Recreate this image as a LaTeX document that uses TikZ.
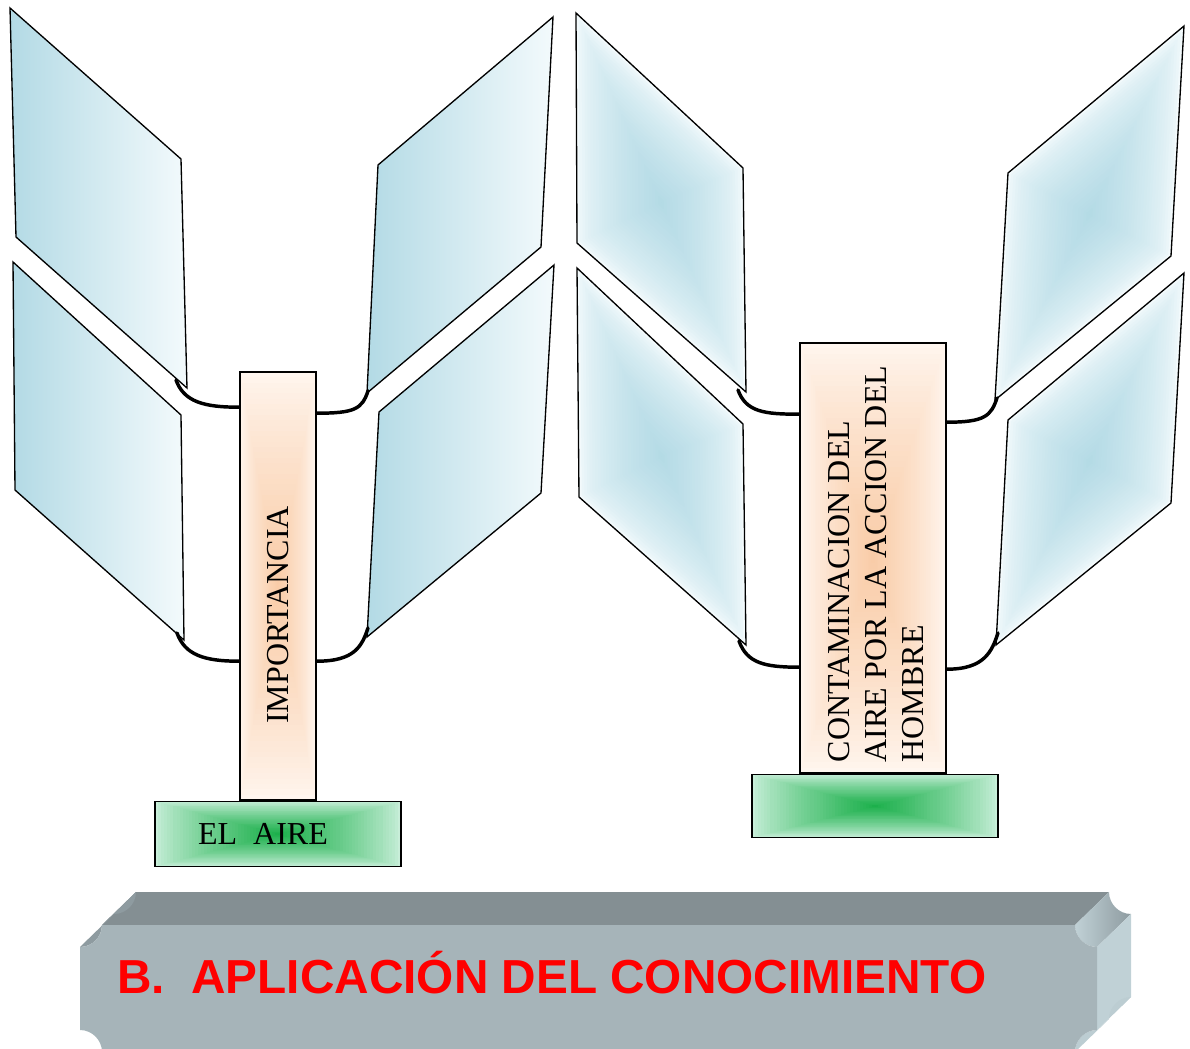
\documentclass[tikz,border=0pt]{standalone}
\usepackage{fontspec}
\setmainfont{Liberation Serif}
\newfontfamily\bannerfont{Liberation Sans}
\usetikzlibrary{calc, positioning}
\newlength\px
\setlength\px{0.75pt}
\definecolor{glassdark}{HTML}{B3DAE5}
\definecolor{glasslight}{HTML}{F3FAFC}
\definecolor{peachdark}{HTML}{F9CBA6}
\definecolor{peachlight}{HTML}{FFF6EF}
\definecolor{greendark}{HTML}{19AF49}
\definecolor{greenlight}{HTML}{C8EED9}
\definecolor{slatefront}{HTML}{A6B4B9}
\definecolor{slatetop}{HTML}{848F93}
\definecolor{slateside}{HTML}{C0D1D6}
\definecolor{slatenotch}{HTML}{8E9BA0}
\newcommand{\rectshade}[2]{%
  \foreach \k in {0,...,40}{
    \pgfmathsetmacro\s{1-\k/40}
    \pgfmathtruncatemacro\c{100*(\k/40)^0.8}
    \fill[#1!\c!#2] ($(path picture bounding box.center)!\s!(path picture bounding box.south west)$)
      rectangle ($(path picture bounding box.center)!\s!(path picture bounding box.north east)$);
  }}
\newcommand{\panelflat}[4]{%
  \shadedraw[panel, left color=glassdark, right color=glasslight] (#1) -- (#2) -- (#3) -- (#4) -- cycle;}
\newcommand{\paneldiamond}[4]{%
  \foreach \k in {0,...,30}{
    \pgfmathsetmacro\s{1-\k/30}
    \pgfmathtruncatemacro\c{100*(\k/30)^0.6}
    \fill[glassdark!\c!glasslight] ($(#1)!.5!(#3)!\s!(#1)$) -- ($(#1)!.5!(#3)!\s!(#2)$)
      -- ($(#1)!.5!(#3)!\s!(#3)$) -- ($(#1)!.5!(#3)!\s!(#4)$) -- cycle;
  }
  \draw[panel] (#1) -- (#2) -- (#3) -- (#4) -- cycle;}
\tikzstyle{panel} = [draw=black, line width=1pt, line join=miter]
\tikzstyle{link} = [line width=2.6pt, line cap=round]
\tikzstyle{pillar} = [rectangle, draw=black, line width=1.2pt, inner sep=0pt, text centered, font=\fontsize{24}{27.75}\selectfont, path picture={\rectshade{peachdark}{peachlight}}]
\tikzstyle{base} = [rectangle, draw=black, line width=1.2pt, inner sep=0pt, text centered, font=\fontsize{24}{27.75}\selectfont, path picture={\rectshade{greendark}{greenlight}}]
\begin{document}
\begin{tikzpicture}[x=0.75pt, y=-0.75pt]
\useasboundingbox (0,0) rectangle (1190,1049);
% panels of the first column
\coordinate (a1) at (10,8);    \coordinate (a2) at (181,159); \coordinate (a3) at (187,388); \coordinate (a4) at (16,237);
\coordinate (b1) at (13,262);  \coordinate (b2) at (181,415); \coordinate (b3) at (184,640); \coordinate (b4) at (15,490);
\coordinate (c1) at (378,165); \coordinate (c2) at (553,17);  \coordinate (c3) at (541,247); \coordinate (c4) at (367,393);
\coordinate (d1) at (379,412); \coordinate (d2) at (554,265); \coordinate (d3) at (541,493); \coordinate (d4) at (367,637);
\panelflat{a1}{a2}{a3}{a4}
\panelflat{b1}{b2}{b3}{b4}
\panelflat{c1}{c2}{c3}{c4}
\panelflat{d1}{d2}{d3}{d4}
% panels of the second column
\coordinate (e1) at (576,13);   \coordinate (e2) at (743,168);  \coordinate (e3) at (746,392);  \coordinate (e4) at (577,243);
\coordinate (f1) at (577,268);  \coordinate (f2) at (743,424);  \coordinate (f3) at (746,645);  \coordinate (f4) at (579,497);
\coordinate (g1) at (1008,173); \coordinate (g2) at (1184,26);  \coordinate (g3) at (1171,256); \coordinate (g4) at (995,400);
\coordinate (h1) at (1008,420); \coordinate (h2) at (1184,273); \coordinate (h3) at (1171,503); \coordinate (h4) at (996,645);
\paneldiamond{e1}{e2}{e3}{e4}
\paneldiamond{f1}{f2}{f3}{f4}
\paneldiamond{g1}{g2}{g3}{g4}
\paneldiamond{h1}{h2}{h3}{h4}
% pillars and bases
\node (imp) [pillar, minimum width=76\px, minimum height=428\px] at (278,586) {\rotatebox{90}{IMPORTANCIA\hspace*{58\px}}};
\node (aire) [base, below=0pt of imp, minimum width=246\px, minimum height=65\px] {EL\ \ AIRE\hspace*{30\px}};
\node (cont) [pillar, minimum width=146\px, minimum height=430\px] at (873,558) {\hspace*{12\px}\rotatebox{90}{\begin{tabular}{@{}l@{}}CONTAMINACION DEL\\AIRE POR LA ACCION DEL\hspace*{12\px}\\HOMBRE\end{tabular}}};
\node (contbase) [base, below=0pt of cont, xshift=2\px, minimum width=246\px, minimum height=63\px] {};
% hinges
\coordinate (ja) at (176,380);  \coordinate (jb) at (177,633);
\coordinate (jc) at (368,391);  \coordinate (jd) at (368,628);
\coordinate (je) at (738,390);  \coordinate (jf) at (739,641);
\coordinate (jg) at (997,398);  \coordinate (jh) at (998,633);
\draw [link] (ja) .. controls +(8,22) and +(-35,0) .. ($(imp.north west)+(0,36)$);
\draw [link] (jb) .. controls +(8,22) and +(-35,0) .. ($(imp.north west)+(0,290)$);
\draw [link] ($(imp.north east)+(0,42)$) .. controls +(38,0) and +(-6,18) .. (jc);
\draw [link] ($(imp.north east)+(0,290)$) .. controls +(38,0) and +(-6,18) .. (jd);
\draw [link] (je) .. controls +(8,22) and +(-35,0) .. ($(cont.north west)+(0,72)$);
\draw [link] (jf) .. controls +(8,22) and +(-35,0) .. ($(cont.north west)+(0,325)$);
\draw [link] ($(cont.north east)+(0,80)$) .. controls +(38,0) and +(-6,18) .. (jg);
\draw [link] ($(cont.north east)+(0,327)$) .. controls +(38,0) and +(-6,18) .. (jh);
% banner
\fill[slatetop] (102,925) -- (136,892) -- (1109,892) -- (1075,925) -- cycle;
\fill[slatenotch] (80,947) -- (114,914) .. controls (126,914) and (136,904) .. (136,892) -- (102,925) .. controls (102,937) and (92,947) .. (80,947) -- cycle;
\shade[left color=slateside, right color=slatenotch] (1075,925) .. controls (1075,937) and (1085,947) .. (1097,947) -- (1131,914) .. controls (1119,914) and (1109,904) .. (1109,892) -- cycle;
\fill[slateside] (1097,947) -- (1131,914) -- (1131,997) -- (1097,1030) -- cycle;
\fill[slateside!85!slatefront] (1097,1030) -- (1131,997) .. controls (1119,997) and (1109,1007) .. (1109,1019) -- (1075,1052) .. controls (1075,1040) and (1085,1030) .. (1097,1030) -- cycle;
\fill[slatefront] (102,925) -- (1075,925) .. controls (1075,937) and (1085,947) .. (1097,947) -- (1097,1030) .. controls (1085,1030) and (1075,1040) .. (1075,1052) -- (102,1052) .. controls (102,1040) and (92,1030) .. (80,1030) -- (80,947) .. controls (92,947) and (102,937) .. (102,925) -- cycle;
\node (title) [anchor=base west, inner sep=0pt, text=red, font=\bannerfont\bfseries\fontsize{35.8}{40}\selectfont] at (117,993) {B.\ \ APLICACIÓN DEL CONOCIMIENTO};
\end{tikzpicture}
\end{document}
